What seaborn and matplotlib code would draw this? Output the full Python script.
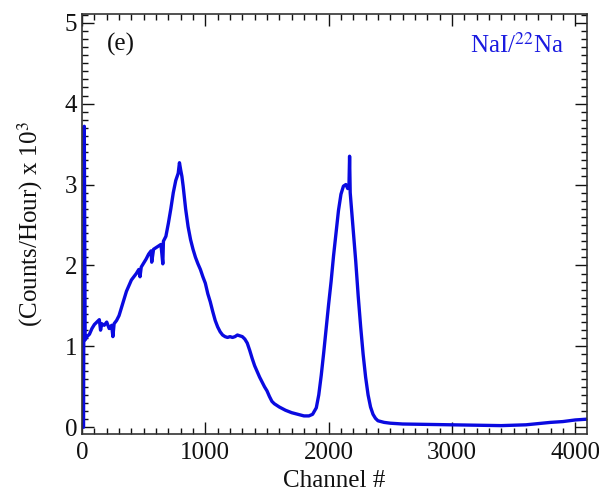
import matplotlib
matplotlib.use("Agg")
import matplotlib.pyplot as plt
import seaborn as sns
import pandas as pd
from matplotlib.ticker import MultipleLocator

channels = [0, 12, 18, 25, 40, 60, 80, 100, 120, 140, 150, 160, 180, 200, 220, 240, 250, 260,
            280, 300, 320, 340, 360, 380, 400, 420, 440, 460, 470, 480, 500, 520, 540,
            560, 565, 580, 600, 620, 640, 655, 660, 680, 700, 720, 740, 760, 780, 790,
            800, 810, 820, 840, 860, 880, 900, 920, 940, 960, 980, 1000, 1020, 1040,
            1060, 1080, 1100, 1120, 1140, 1160, 1180, 1200, 1220, 1240, 1260, 1280,
            1300, 1320, 1340, 1360, 1380, 1400, 1420, 1440, 1460, 1480, 1500, 1520,
            1540, 1560, 1580, 1600, 1650, 1700, 1750, 1800, 1840, 1870, 1900, 1920,
            1940, 1960, 1980, 2000, 2020, 2040, 2060, 2080, 2100, 2120, 2140, 2155,
            2165, 2170, 2175, 2190, 2200, 2220, 2240, 2260, 2280, 2300, 2320, 2340,
            2360, 2380, 2400, 2450, 2500, 2600, 2800, 3000, 3200, 3400, 3600, 3700,
            3800, 3900, 4000, 4096]
counts = [0.0, 0.0, 3.72, 1.08, 1.12, 1.15, 1.22, 1.27, 1.30, 1.33, 1.20, 1.28, 1.26, 1.30,
          1.22, 1.26, 1.12, 1.28, 1.32, 1.38, 1.48, 1.58, 1.68, 1.75, 1.82, 1.86, 1.90,
          1.95, 1.86, 1.98, 2.03, 2.08, 2.14, 2.18, 2.04, 2.20, 2.22, 2.24, 2.26, 2.02,
          2.30, 2.36, 2.52, 2.70, 2.90, 3.05, 3.14, 3.27, 3.18, 3.10, 2.98, 2.70, 2.48,
          2.32, 2.20, 2.10, 2.02, 1.95, 1.86, 1.78, 1.65, 1.55, 1.43, 1.32, 1.24, 1.18,
          1.14, 1.12, 1.11, 1.12, 1.11, 1.12, 1.14, 1.13, 1.12, 1.09, 1.04, 0.95, 0.85,
          0.76, 0.69, 0.62, 0.56, 0.50, 0.45, 0.38, 0.32, 0.29, 0.27, 0.25, 0.21, 0.18,
          0.16, 0.14, 0.14, 0.16, 0.24, 0.40, 0.64, 0.92, 1.22, 1.52, 1.80, 2.12, 2.40,
          2.68, 2.88, 2.98, 3.00, 2.95, 2.98, 3.35, 2.90, 2.62, 2.45, 2.05, 1.62, 1.24,
          0.90, 0.62, 0.40, 0.25, 0.16, 0.11, 0.08, 0.06, 0.05, 0.04, 0.035, 0.03,
          0.025, 0.02, 0.03, 0.045, 0.06, 0.07, 0.09, 0.10]

x_ticks = [0, 1000, 2000, 3000, 4000]
y_ticks = [0, 1, 2, 3, 4, 5]

sns.set_theme(style="white")
plt.rcParams['font.family'] = ['Liberation Serif', 'DejaVu Serif']
plt.rcParams['mathtext.fontset'] = 'stix'

df = pd.DataFrame({"Channel": channels, "Counts": counts})

fig = plt.figure(figsize=(5.99, 4.95), dpi=100)
ax = fig.add_axes([0.137, 0.123, 0.843, 0.849])
sns.lineplot(data=df, x="Channel", y="Counts", ax=ax, color="#0a0ae0", linewidth=2.4)

ax.set_xlim(0, 4096)
ax.set_ylim(-0.085, 5.11)
ax.set_xticks(x_ticks)
ax.set_yticks(y_ticks)
ax.xaxis.set_minor_locator(MultipleLocator(100))
ax.yaxis.set_minor_locator(MultipleLocator(0.1))
ax.tick_params(which="both", direction="in", top=True, right=True, bottom=True, left=True,
               labelsize=18, colors="#111111", width=1.0)
ax.tick_params(which="major", length=8.5)
ax.tick_params(which="minor", length=4.3)
ax.tick_params(axis="x", pad=6)
for s in ax.spines.values():
    s.set_color("#333333")
    s.set_linewidth(1.2)

ax.set_xlabel("Channel #", fontsize=18, color="#111111", labelpad=4)
ax.set_ylabel("(Counts/Hour) x 10$^3$", fontsize=18, color="#111111", labelpad=14)
ax.text(0.05, 0.955, "(e)", transform=ax.transAxes, fontsize=18, color="#111111",
        ha="left", va="top")
ax.text(0.955, 0.955, "NaI/$^{22}$Na", transform=ax.transAxes, fontsize=18,
        color="#1a1ae0", ha="right", va="top")

fig.savefig("out.png", dpi=100)
